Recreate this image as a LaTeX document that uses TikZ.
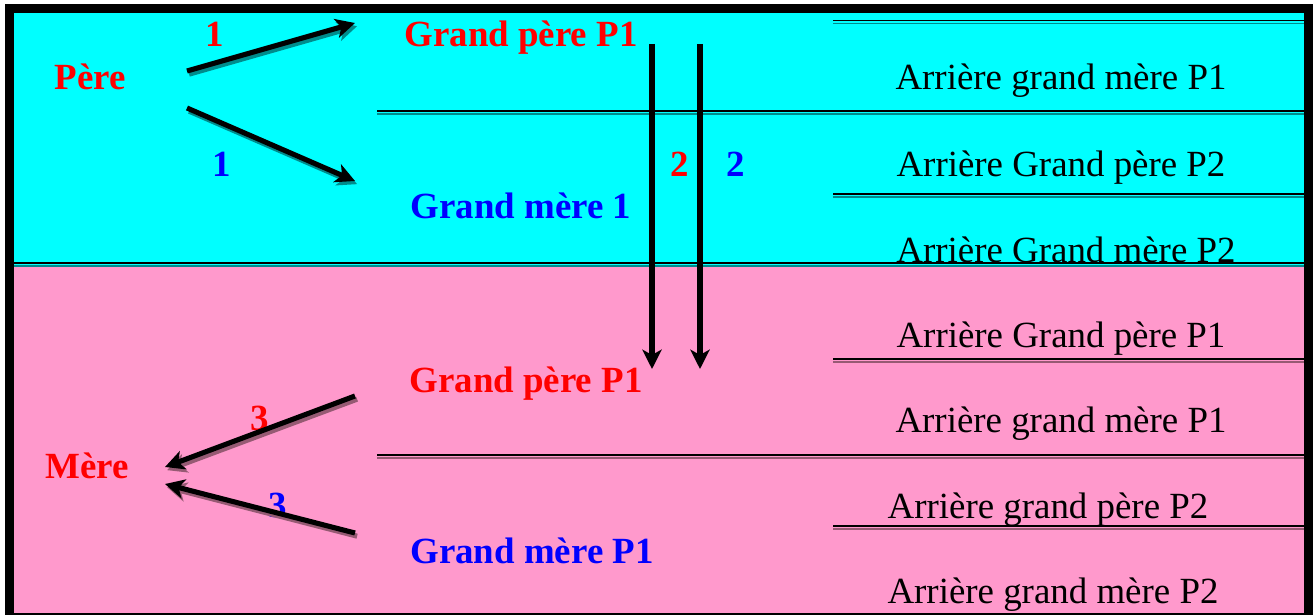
\documentclass[tikz,border=0pt]{standalone}
\usepackage{fontspec}
\setmainfont{Liberation Serif}
\usetikzlibrary{arrows.meta}
\definecolor{ciel}{RGB}{0,255,255}
\definecolor{rose}{RGB}{255,153,204}
\definecolor{ombrebleu}{RGB}{0,140,140}
\definecolor{ombrerose}{RGB}{150,90,115}
\tikzset{
  txt/.style={inner sep=0pt, anchor=base, font=\fontsize{21}{25}\selectfont},
  gras/.style={inner sep=0pt, anchor=base, font=\fontsize{21}{25}\selectfont\bfseries},
  fleche/.style={line width=2.9pt, -{Stealth[length=11pt,width=11pt,inset=3pt]}},
  ombre/.style={transform canvas={xshift=1.2pt,yshift=-1.8pt}},
  filet/.style={line width=0.9pt},
}
\begin{document}
\begin{tikzpicture}[x=0.02cm,y=-0.02cm]
\useasboundingbox (0,0) rectangle (1313,615);
\fill[white] (0,0) rectangle (1313,615);
\fill[black] (5,4) rectangle (1313,615);
\fill[ciel] (14,13) rectangle (1304,266);
\fill[rose] (14,266) rectangle (1304,613);
% filets
\draw[filet] (833,20.5) -- (1304,20.5);
\draw[filet,ombrebleu] (833,23.5) -- (1304,23.5);
\draw[filet] (377,111) -- (1304,111);
\draw[filet,ombrebleu] (377,114) -- (1304,114);
\draw[filet] (833,194) -- (1304,194);
\draw[filet,ombrebleu] (833,197) -- (1304,197);
\draw[filet] (14,263) -- (1304,263);
\draw[filet,ombrebleu] (14,266) -- (1304,266);
\draw[filet] (833,359) -- (1304,359);
\draw[filet,ombrerose] (833,362) -- (1304,362);
\draw[filet] (377,455) -- (1304,455);
\draw[filet,ombrerose] (377,458) -- (1304,458);
\draw[filet] (833,526) -- (1304,526);
\draw[filet,ombrerose] (833,529) -- (1304,529);
% cote pere
\node[gras,red] (pere) at (90,90) {Père};
\node[gras,red] (un) at (215,47) {1};
\node[gras,blue] (unb) at (222,176) {1};
\node[gras,red] (gpa) at (521,47) {Grand père P1};
\node[gras,blue] (gma) at (521,218) {Grand mère 1};
\node[gras,red] (deux) at (680,176) {2};
\node[gras,blue] (deuxb) at (736,176) {2};
\node[txt] (agm1) at (1061,90) {Arrière grand mère P1};
\node[txt] (agp2) at (1061,176) {Arrière Grand père P2};
\node[txt] (agm2) at (1066,262) {Arrière Grand mère P2};
% cote mere
\node[gras,red] (mere) at (87,478) {Mère};
\node[gras,red] (trois) at (260,430) {3};
\node[gras,blue] (troisb) at (278,517) {3};
\node[gras,red] (gpb) at (526,392) {Grand père P1};
\node[gras,blue] (gmb) at (532,563) {Grand mère P1};
\node[txt] (agp1) at (1061,347) {Arrière Grand père P1};
\node[txt] (agm1b) at (1061,432) {Arrière grand mère P1};
\node[txt] (agp2b) at (1048,518) {Arrière grand père P2};
\node[txt] (agm2b) at (1053,603) {Arrière grand mère P2};
% fleches
\coordinate (p1) at (187,71);
\coordinate (p2) at (355,23);
\coordinate (p3) at (187,108);
\coordinate (p4) at (355,181);
\coordinate (v1) at (652,44);
\coordinate (v2) at (652,369);
\coordinate (v3) at (700,44);
\coordinate (v4) at (700,369);
\coordinate (m1) at (355,396);
\coordinate (m2) at (165,467);
\coordinate (m3) at (355,533);
\coordinate (m4) at (165,484);
\draw[fleche,ombrebleu,ombre] (p1) -- (p2);
\draw[fleche] (p1) -- (p2);
\draw[fleche,ombrebleu,ombre] (p3) -- (p4);
\draw[fleche] (p3) -- (p4);
\draw[fleche] (v1) -- (v2);
\draw[fleche] (v3) -- (v4);
\draw[fleche,ombrerose,ombre] (m1) -- (m2);
\draw[fleche] (m1) -- (m2);
\draw[fleche,ombrerose,ombre] (m3) -- (m4);
\draw[fleche] (m3) -- (m4);
\end{tikzpicture}
\end{document}
